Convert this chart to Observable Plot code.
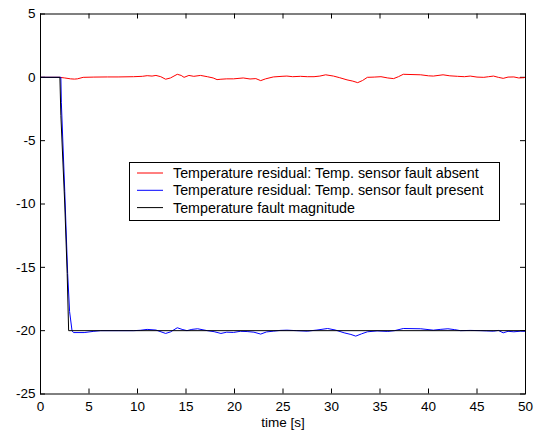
<!DOCTYPE html>
<html>
<head>
<meta charset="utf-8">
<script src="https://cdn.jsdelivr.net/npm/d3@7"></script>
<script src="https://cdn.jsdelivr.net/npm/@observablehq/plot@0.6"></script>
<style>
  html, body { margin: 0; padding: 0; background: #fff; }
  #chart { width: 536px; height: 438px; }
</style>
</head>
<body>
<div id="chart"></div>
<script>
// Series: Temperature residual, temp. sensor fault absent (red)
const redT = [0, 2.0, 2.5, 3.1, 3.5, 3.8, 4.4, 5.5, 6.9, 8.0, 9.6, 10.5, 11.0, 11.5, 11.9, 12.4, 12.9, 13.4, 14.1, 14.5, 14.8, 15.3, 15.8, 16.5, 17.2, 17.8, 18.2, 18.6, 19.2, 19.9, 20.9, 21.6, 22.2, 22.7, 23.2, 24.0, 24.9, 25.4, 26.0, 26.8, 27.5, 28.2, 28.8, 29.4, 30.2, 30.8, 31.6, 32.2, 32.7, 33.2, 33.7, 34.4, 35.1, 35.8, 36.4, 36.9, 37.4, 38.3, 39.2, 40.0, 40.5, 41.5, 42.2, 43.0, 43.7, 44.3, 45.0, 45.7, 46.2, 46.7, 47.2, 47.7, 48.2, 48.8, 49.3, 49.8, 50];
const redV = [0, 0, -0.05, -0.12, -0.14, -0.12, 0, 0.02, 0.03, 0.03, 0.05, 0.08, 0.13, 0.10, 0.15, 0.05, -0.15, -0.05, 0.24, 0.15, 0, 0.15, 0.08, 0.15, 0.05, -0.05, -0.18, -0.15, -0.12, -0.12, -0.05, -0.13, -0.10, -0.26, -0.12, 0.03, 0.08, 0.1, 0.05, 0.08, 0.05, 0.05, 0.1, 0.2, 0.1, -0.02, -0.2, -0.3, -0.42, -0.25, 0, 0.02, 0.05, -0.05, -0.1, 0.05, 0.24, 0.22, 0.2, 0.12, 0.1, 0.2, 0.12, 0.08, 0.05, 0.1, 0.02, 0, 0.05, 0.1, 0.0, -0.08, 0.02, 0.03, -0.05, -0.03, 0];

// Series: Temperature residual, temp. sensor fault present (blue)
const blueT = [0, 2.1, 2.15, 2.5, 2.8, 3.0, 3.25, 3.4, 4.5, 5.5, 6.2, 8.0, 9.6, 10.3, 11.0, 11.9, 12.9, 13.4, 14.1, 14.6, 15.1, 15.6, 16.2, 17.2, 17.9, 18.6, 19.2, 19.9, 20.6, 21.3, 22.0, 22.7, 23.3, 24.0, 24.7, 25.4, 26.4, 27.5, 28.5, 29.6, 30.4, 31.3, 32.0, 32.5, 33.1, 33.7, 34.7, 35.8, 36.5, 37.4, 38.3, 39.2, 40.5, 41.2, 42.0, 42.7, 43.3, 44.3, 45.4, 46.0, 46.7, 47.2, 47.7, 48.2, 48.8, 49.5, 50];
const blueV = [0, 0, -2, -9, -15.5, -18.5, -20, -20.15, -20.15, -20.05, -20, -20, -20, -19.97, -19.9, -19.95, -20.22, -20.1, -19.77, -19.9, -20, -19.9, -19.85, -20, -20.08, -20.22, -20.12, -20.14, -20.05, -20.07, -20.12, -20.27, -20.1, -20.04, -19.98, -19.96, -20.0, -20.04, -19.95, -19.83, -19.95, -20.17, -20.3, -20.43, -20.25, -20.09, -20.02, -20.06, -20.0, -19.83, -19.84, -19.85, -19.96, -19.9, -19.85, -19.92, -20, -19.98, -20, -20.02, -20.04, -19.98, -20.17, -20.05, -20.09, -20.04, -20.05];

// Series: Temperature fault magnitude (black)
const faultT = [0, 2.0, 2.1, 2.5, 2.75, 2.9, 50];
const faultV = [0, 0, -3, -10, -15.5, -20, -20];

// Axes
const xTicks = [0, 5, 10, 15, 20, 25, 30, 35, 40, 45, 50];
const yTicks = [-25, -20, -15, -10, -5, 0, 5];
const xLabel = "time [s]";
const legendLabels = [
  "Temperature residual: Temp. sensor fault absent",
  "Temperature residual: Temp. sensor fault present",
  "Temperature fault magnitude"
];
const legendColors = ["#ff0000", "#0000ff", "#000000"];

const red = redT.map((t, i) => ({t, v: redV[i]}));
const blue = blueT.map((t, i) => ({t, v: blueV[i]}));
const fault = faultT.map((t, i) => ({t, v: faultV[i]}));

const W = 536, H = 438;
const mL = 40, mR = 11, mT = 13.5, mB = 44.5;
const pw = W - mL - mR, ph = H - mT - mB;
const tick = 5;
const font = "Liberation Sans, Arial, sans-serif";
const fmt = d => String(d);

const plot = Plot.plot({
  width: W,
  height: H,
  marginLeft: mL,
  marginRight: mR,
  marginTop: mT,
  marginBottom: mB,
  style: {fontFamily: font, fontSize: "13.5px", background: "#fff", color: "#000"},
  x: {domain: [0, 50], ticks: xTicks},
  y: {domain: [-25, 5], ticks: yTicks},
  marks: [
    Plot.axisX(xTicks, {tickSize: 0, tickPadding: 7, label: null, tickFormat: fmt, fontSize: 13.5, fill: "#000"}),
    Plot.axisY(yTicks, {tickSize: 0, tickPadding: 5, label: null, tickFormat: fmt, fontSize: 13.5, fill: "#000"}),
    Plot.tickX(xTicks, {x: d => d, insetTop: ph - tick, stroke: "#000"}),
    Plot.tickX(xTicks, {x: d => d, insetBottom: ph - tick, stroke: "#000"}),
    Plot.tickY(yTicks, {y: d => d, insetRight: pw - tick, stroke: "#000"}),
    Plot.tickY(yTicks, {y: d => d, insetLeft: pw - tick, stroke: "#000"}),
    Plot.line(red, {x: "t", y: "v", stroke: legendColors[0], strokeWidth: 1}),
    Plot.line(blue, {x: "t", y: "v", stroke: legendColors[1], strokeWidth: 1}),
    Plot.line(fault, {x: "t", y: "v", stroke: legendColors[2], strokeWidth: 1}),
    Plot.frame({stroke: "#000", strokeWidth: 1}),
    Plot.text([xLabel], {frameAnchor: "bottom", dy: 33, fontSize: 13.5, fill: "#000"})
  ]
});
document.getElementById("chart").appendChild(plot);

// Legend box inside the axes
const svg = d3.select(plot);
const lg = svg.append("g").attr("transform", "translate(129.5,162.5)");
lg.append("rect").attr("width", 370).attr("height", 58)
  .attr("fill", "#fff").attr("stroke", "#000").attr("stroke-width", 1);
legendLabels.forEach((lab, i) => {
  const y = 10.5 + i * 17.3;
  lg.append("line").attr("x1", 7.5).attr("x2", 33.5).attr("y1", y).attr("y2", y)
    .attr("stroke", legendColors[i]).attr("stroke-width", 1);
  lg.append("text").attr("x", 43.5).attr("y", y).attr("dy", "0.35em")
    .attr("text-anchor", "start")
    .attr("font-family", font).attr("font-size", 14.3).attr("fill", "#000").text(lab);
});
</script>
</body>
</html>
